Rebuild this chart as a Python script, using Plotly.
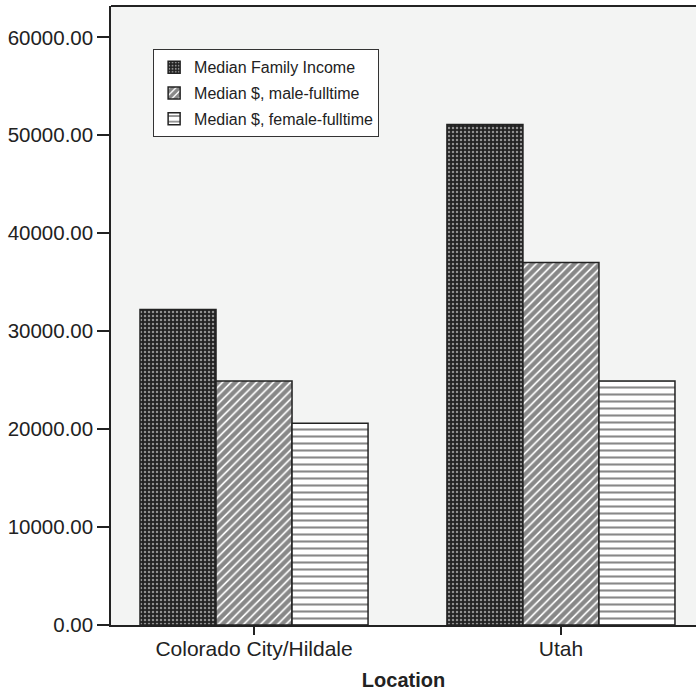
import plotly.graph_objects as go

locations = ["Colorado City/Hildale", "Utah"]
family_income = [32200, 51100]
male_fulltime = [24900, 37000]
female_fulltime = [20600, 24900]
series_names = ["Median Family Income", "Median $, male-fulltime", "Median $, female-fulltime"]
y_ticks = [0, 10000, 20000, 30000, 40000, 50000, 60000]
y_tick_labels = ["0.00", "10000.00", "20000.00", "30000.00", "40000.00", "50000.00", "60000.00"]

FONT = "Liberation Sans, Arial, sans-serif"
line = dict(color="#222222", width=1.5)

fig = go.Figure()
fig.add_trace(go.Bar(
    x=locations, y=family_income, name=series_names[0], legendgroup="a",
    marker=dict(color="#222222", line=line,
                pattern=dict(shape=".", fgcolor="#ffffff", bgcolor="#222222", size=4, solidity=0.3)),
))
fig.add_trace(go.Bar(
    x=locations, y=male_fulltime, name=series_names[1], legendgroup="b",
    marker=dict(color="#ffffff", line=line,
                pattern=dict(shape="/", fgcolor="#111111", bgcolor="#ffffff", size=6, solidity=0.72)),
))
fig.add_trace(go.Bar(
    x=locations, y=female_fulltime, name=series_names[2], legendgroup="c",
    marker=dict(color="#ffffff", line=line,
                pattern=dict(shape="-", fgcolor="#111111", bgcolor="#ffffff", size=7, solidity=0.3)),
))

fig.update_layout(
    width=696, height=693,
    margin=dict(l=111, r=0, t=6, b=68),
    paper_bgcolor="#ffffff",
    plot_bgcolor="#f3f4f3",
    barmode="group",
    bargap=0.257,
    bargroupgap=0,
    font=dict(family=FONT, size=20, color="#222222"),
    showlegend=True,
    legend=dict(
        x=0.072, y=0.93, xanchor="left", yanchor="top",
        bgcolor="#ffffff", bordercolor="#333333", borderwidth=1,
        font=dict(family=FONT, size=16, color="#222222"),
        itemwidth=30, traceorder="grouped", tracegroupgap=2,
    ),
    xaxis=dict(
        range=[-0.466, 1.44],
        showline=True, linecolor="#222222", linewidth=1.5,
        ticks="outside", ticklen=8, tickcolor="#222222", tickwidth=1.5,
        ticklabelstandoff=-4,
        showgrid=False, zeroline=False, mirror=False,
        title=dict(text="<b>Location</b>", font=dict(family=FONT, size=20), standoff=14),
        tickfont=dict(family=FONT, size=21),
    ),
    yaxis=dict(
        range=[0, 63200],
        tickvals=y_ticks, ticktext=y_tick_labels,
        showline=True, linecolor="#222222", linewidth=1.5,
        ticks="outside", ticklen=12, tickcolor="#222222", tickwidth=1.5,
        showgrid=False, zeroline=False,
        tickfont=dict(family=FONT, size=20.5),
    ),
    shapes=[dict(type="line", xref="paper", yref="paper", x0=0, x1=1, y0=1, y1=1,
                 line=dict(color="#222222", width=2))],
)

fig.write_html("out.html", config={"displayModeBar": False},
               post_script="document.body.style.margin='0';")
